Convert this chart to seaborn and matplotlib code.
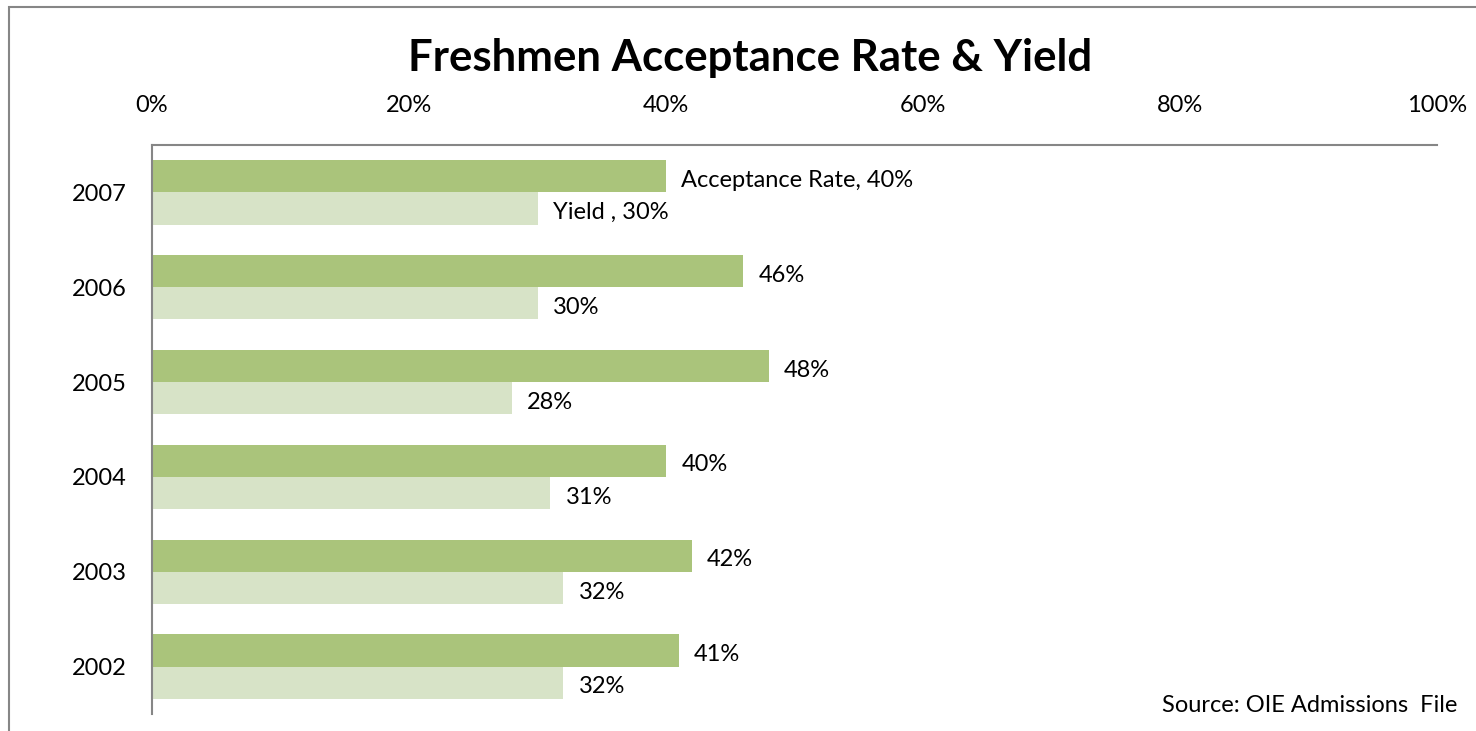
import pandas as pd
import numpy as np
import matplotlib.pyplot as plt
import seaborn as sns
from matplotlib.patches import Rectangle
from matplotlib.ticker import PercentFormatter

# Data
years = ['2007', '2006', '2005', '2004', '2003', '2002']
acceptance = [40, 46, 48, 40, 42, 41]
yield_rate = [30, 30, 28, 31, 32, 32]
series = ['Acceptance Rate', 'Yield']
colors = ['#AAC47B', '#D7E3C7']

df = pd.DataFrame({
    'Year': years * 2,
    'Value': acceptance + yield_rate,
    'Series': [series[0]] * len(years) + [series[1]] * len(years)
})

sns.set_style('white')
plt.rcParams['font.family'] = ['Lato', 'DejaVu Sans']
plt.rcParams['text.color'] = 'black'
plt.rcParams['xtick.color'] = 'black'
plt.rcParams['ytick.color'] = 'black'

fig = plt.figure(figsize=(14.76, 7.31), dpi=100)
ax = fig.add_axes([152/1476, 1 - 714/731, (1437-152)/1476, (714-145)/731])

sns.barplot(data=df, x='Value', y='Year', hue='Series', order=years,
            hue_order=series, palette=colors, orient='h', width=0.68,
            saturation=1, linewidth=0, ax=ax, legend=False)

ax.set_xlim(0, 100)
ax.xaxis.set_major_formatter(PercentFormatter(decimals=0))
ax.set_xticks(np.arange(0, 101, 20))
ax.xaxis.tick_top()
ax.tick_params(axis='x', length=0, pad=21, labelsize=17)
ax.tick_params(axis='y', length=0, pad=18, labelsize=17)
ax.set_xlabel('')
ax.set_ylabel('')

for side in ['right', 'bottom']:
    ax.spines[side].set_visible(False)
for side in ['left', 'top']:
    ax.spines[side].set_color('#868686')
    ax.spines[side].set_linewidth(1.5)

# data labels, first category gets the series name
for cont, name in zip(ax.containers, series):
    labels = []
    for i, bar in enumerate(cont):
        v = bar.get_width()
        if i == 0:
            sep = ', ' if name == series[0] else ' , '
            labels.append(f'{name}{sep}{v:.0f}%')
        else:
            labels.append(f'{v:.0f}%')
    txts = ax.bar_label(cont, labels=labels, padding=11, fontsize=17)
    for t in txts:
        t.xyann = (t.xyann[0], t.xyann[1] - 3)

fig.text(750/1476, 1 - 58/731, 'Freshmen Acceptance Rate & Yield',
         ha='center', va='center', fontsize=31.5, fontweight='bold')
fig.text(1457/1476, 1 - 706/731, 'Source: OIE Admissions  File',
         ha='right', va='center', fontsize=17)

# outer chart border (cut off on the right and bottom)
fig.patches.append(Rectangle((9/1476, -0.05), 1.1, 1 - 7/731 + 0.05,
                             transform=fig.transFigure, fill=False,
                             edgecolor='#868686', linewidth=1.5))

fig.savefig('out.png', dpi=100)
